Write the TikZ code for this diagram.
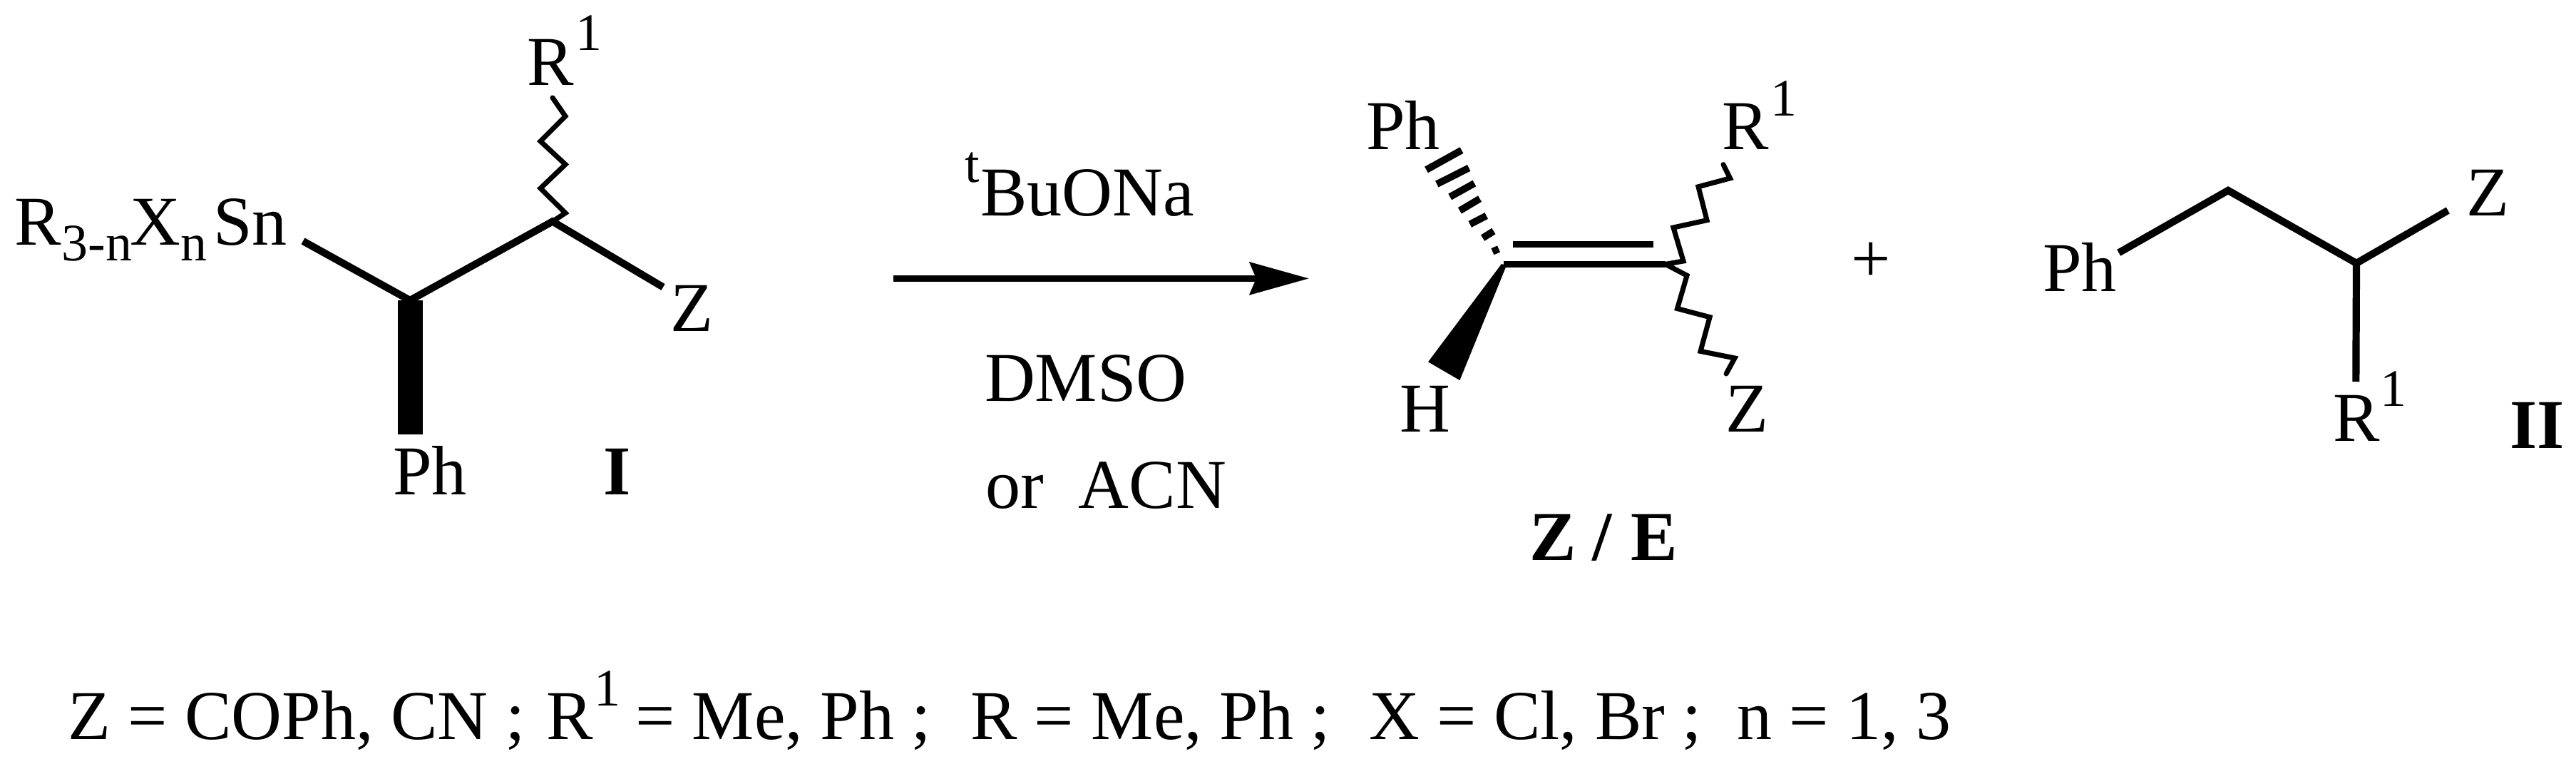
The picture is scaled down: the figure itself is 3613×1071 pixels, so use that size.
\documentclass[tikz,border=0pt]{standalone}
\usepackage{fontspec}
\setmainfont{Liberation Serif}
\usetikzlibrary{arrows.meta}
\tikzset{
  lab/.style={anchor=base west,inner sep=0pt,outer sep=0pt,font=\fontsize{27.9}{30}\selectfont},
  sublab/.style={anchor=base west,inner sep=0pt,outer sep=0pt,font=\fontsize{21}{23}\selectfont},
  boldlab/.style={anchor=base west,inner sep=0pt,outer sep=0pt,font=\fontsize{27.9}{30}\selectfont\bfseries},
  bond/.style={draw=black,line width=2.9pt,line join=miter},
  dblbond/.style={draw=black,line width=2.5pt},
  wavy/.style={draw=black,line width=2pt,line join=miter,line cap=round},
  hashbar/.style={draw=black,line width=2.8pt},
  rxn/.style={draw=black,line width=2.6pt,-{Stealth[length=0.83cm,width=0.45cm,inset=0.09cm]}},
  solidwedge/.style={fill=black,draw=none}
}
\begin{document}
\begin{tikzpicture}[x=0.01cm,y=-0.01cm]
\useasboundingbox (0,0) rectangle (3613,1071);
\fill[white] (0,0) rectangle (3613,1071);

% compound I labels
\node[lab] (r1) at (21,344) {R};
\node[sublab] (r1s) at (87,366) {3-n};
\node[lab] (x1) at (182,344) {X};
\node[sublab] (x1s) at (253,366) {n};
\node[lab] (sn) at (299,344) {Sn};
\node[lab] (ra) at (739,120) {R};
\node[sublab] (ras) at (807,70.7) {1};
\node[lab] (za) at (940,465) {Z};
\node[lab] (pha) at (551,694) {Ph};
\node[boldlab] (ci) at (846,694) {I};

% compound I skeleton
\coordinate (snend) at (425,338);
\coordinate (c1) at (575,421);
\coordinate (c2) at (775,310.5);
\coordinate (zend) at (930,402.5);
\coordinate (barL) at (558,421);
\coordinate (barR) at (593,421);
\coordinate (barLb) at (558,609);
\coordinate (barRb) at (593,609);
\draw[bond] (snend) -- (c1) -- (c2) -- (zend);
\fill[solidwedge] (barL) -- (barR) -- (barRb) -- (barLb) -- cycle;
\draw[wavy] (c2) -- (793,298.6) -- (758,264) -- (793,230.5) -- (758,198) -- (793,163) -- (775,137);

% arrow and conditions
\coordinate (arrS) at (1253,390.4);
\coordinate (arrE) at (1836,390.4);
\draw[rxn] (arrS) -- (arrE);
\node[sublab] (tb) at (1353,256) {t};
\node[lab] (buona) at (1375,302.5) {BuONa};
\node[lab] (dmso) at (1381,562.3) {DMSO};
\node[lab] (oracn) at (1382,712.7) {or\hspace{0.25em} ACN};

% Z / E product
\coordinate (d1) at (2109,370.4);
\coordinate (d2) at (2336,370.4);
\coordinate (u1) at (2122.4,342.2);
\coordinate (u2) at (2319.4,342.2);
\draw[dblbond] (d1) -- (d2);
\draw[dblbond] (u1) -- (u2);
\coordinate (wA) at (2106,370);
\coordinate (wB) at (2113,372);
\coordinate (wC) at (2047.4,533.1);
\coordinate (wD) at (2003,507.3);
\fill[solidwedge] (wA) -- (wB) -- (wC) -- (wD) -- cycle;
\draw[hashbar] (2000.5,238) -- (2050,210.6);
\draw[hashbar] (2015.3,258) -- (2060.2,235.5);
\draw[hashbar] (2033.7,276) -- (2067.9,257);
\draw[hashbar] (2047.4,295.3) -- (2075.5,278.6);
\draw[hashbar] (2061.7,314.4) -- (2084.7,302.5);
\draw[hashbar] (2079.6,333.6) -- (2094.9,324);
\draw[hashbar] (2093.4,352.7) -- (2102,349);
\draw[wavy] (d2) -- (2361,366) -- (2347,319) -- (2394,308.7) -- (2382,261.8) -- (2426.5,249.9) -- (2417,230.7);
\draw[wavy] (d2) -- (2366,386.2) -- (2352.5,432.6) -- (2398,444.6) -- (2385,492.4) -- (2433,502) -- (2421,524);
\node[lab] (phb) at (1916,210) {Ph};
\node[lab] (rb) at (2415,210) {R};
\node[sublab] (rbs) at (2483,162.3) {1};
\node[lab] (hb) at (1963,606) {H};
\node[lab] (zb) at (2420,606) {Z};
\node[boldlab] (zeb) at (2145,786) {Z};
\node[boldlab] (zes) at (2233,786) {/};
\node[boldlab] (zee) at (2287,786) {E};

\node[lab] (plus) at (2596,395.7) {+};

% compound II
\coordinate (p1) at (2971.7,354.3);
\coordinate (p2) at (3125,267);
\coordinate (p3) at (3305,369);
\coordinate (p4) at (3433.3,295);
\coordinate (p5) at (3304.3,535);
\draw[bond] (p1) -- (p2) -- (p3) -- (p4);
\draw[bond] (p3) -- (p5);
\node[lab] (phc) at (2865,408.3) {Ph};
\node[lab] (zc) at (3459,302.3) {Z};
\node[lab] (rc) at (3272.7,618.3) {R};
\node[sublab] (rcs) at (3338,569.3) {1};
\node[boldlab] (cii) at (3520,628.3) {II};

% footnote
\node[lab] (f1) at (95,1036) {Z = COPh, CN ;};
\node[lab] (f2) at (766,1036) {R};
\node[sublab] (f3) at (833,990) {1};
\node[lab] (f4) at (891,1036) {= Me, Ph ;};
\node[lab] (f5) at (1361,1036) {R = Me, Ph ;};
\node[lab] (f6) at (1920,1036) {X = Cl, Br ;};
\node[lab] (f7) at (2436,1036) {n = 1, 3};
\end{tikzpicture}
\end{document}
